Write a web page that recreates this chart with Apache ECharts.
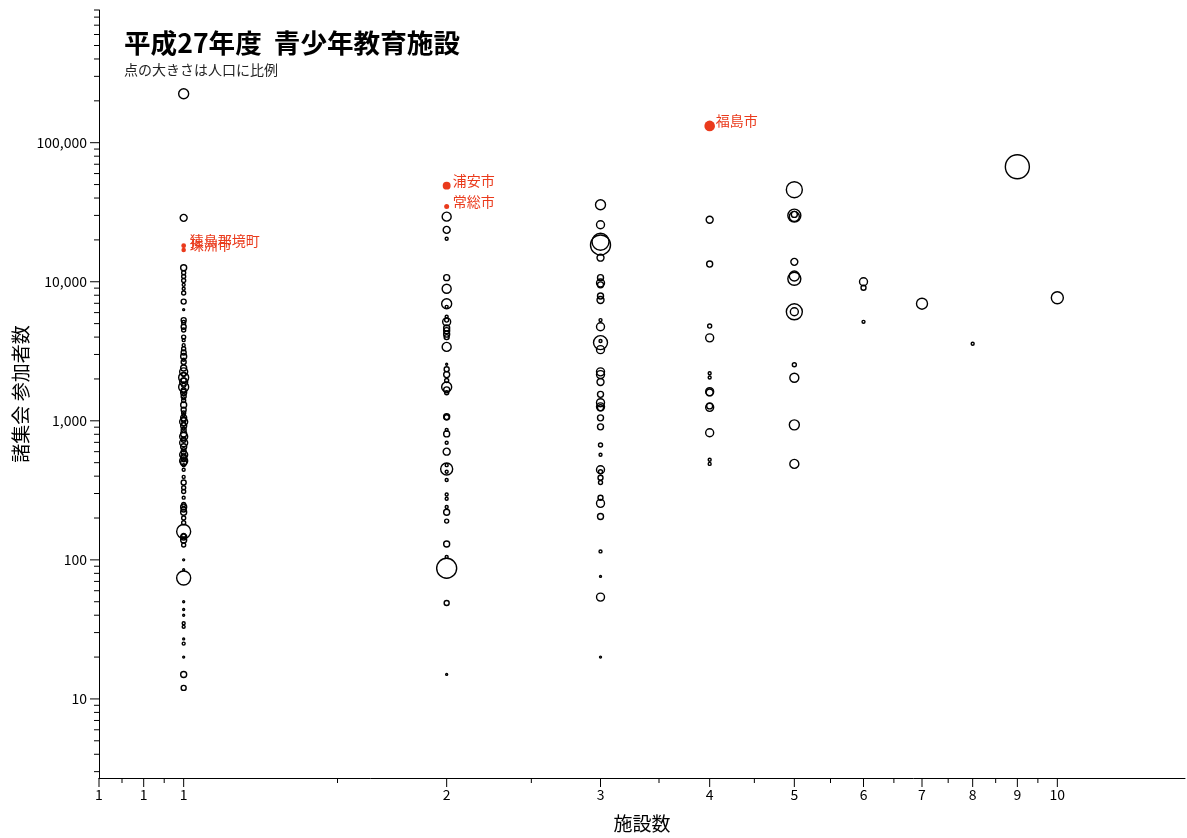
<!DOCTYPE html>
<html>
<head>
<meta charset="utf-8">
<title>平成27年度 青少年教育施設</title>
<script src="https://cdn.jsdelivr.net/npm/echarts@6.0.0/dist/echarts.min.js"></script>
<style>
  html, body { margin: 0; padding: 0; background: #fff; }
  #chart { width: 1187px; height: 838px; }
</style>
</head>
<body>
<div id="chart"></div>
<script>
// 軸の範囲と目盛
const xRange = [0.8, 14]
const yRange = [2.7, 900000]
const xMajorTicks = [0.8, 0.9, 1, 2, 3, 4, 5, 6, 7, 8, 9, 10]
const xMinorTicks = [0.85, 0.95, 1.5, 2.5, 3.5, 4.5, 5.5, 6.5, 7.5, 8.5, 9.5]
const yMajorTicks = [10, 100, 1000, 10000, 100000]
const yMinorTicks = [
  3, 4, 5, 6, 7, 8, 9,
  20, 30, 40, 50, 60, 70, 80, 90,
  200, 300, 400, 500, 600, 700, 800, 900,
  2000, 3000, 4000, 5000, 6000, 7000, 8000, 9000,
  20000, 30000, 40000, 50000, 60000, 70000, 80000, 90000,
  200000, 300000, 400000, 500000, 600000, 700000, 800000, 900000
]

// 施設数ごとの [諸集会参加者数, 人口(千人)]
const facilityCounts = [1, 2, 3, 4, 5, 6, 7, 8, 9, 10]
const fac1 = [
  [225000, 260], [28800, 127], [12600, 94], [11600, 42], [10900, 42], [10200, 42],
  [9500, 23], [8900, 23], [8300, 42], [7200, 65], [6300, 10], [5300, 65], [5100, 42],
  [4750, 65], [4500, 42], [4000, 42], [3800, 23], [3500, 23], [3100, 65], [2900, 94],
  [2650, 65], [2400, 94], [2250, 166], [2050, 260], [1900, 166], [1750, 260], [1600, 94],
  [1500, 65], [1400, 42], [1300, 94], [1200, 65], [1140, 42], [1050, 94], [985, 166],
  [920, 94], [860, 65], [805, 94], [770, 166], [695, 166], [650, 94], [570, 166],
  [540, 94], [515, 166], [500, 94], [445, 23], [395, 23], [360, 65], [330, 42], [310, 42],
  [280, 23], [240, 94], [230, 65], [220, 94], [200, 42], [185, 42], [160, 510], [146, 94],
  [139, 94], [128, 42], [100, 10], [85, 10], [74, 510], [50, 10], [44, 10], [40, 10],
  [35, 23], [33, 23], [27, 10], [25, 23], [20, 10], [15, 94], [12, 65],
  [3300, 42], [2750, 23], [2150, 42], [1950, 65], [1800, 42], [1650, 65], [1450, 23],
  [1100, 23], [1020, 65], [950, 42], [880, 23], [730, 65], [620, 42], [600, 65],
  [555, 65], [525, 42], [480, 23], [250, 42], [150, 42]
]
const fac2 = [
  [29400, 211], [23600, 127], [20400, 23], [10700, 94], [8900, 211], [6950, 260],
  [6600, 23], [5600, 23], [5300, 42], [5150, 166], [4650, 94], [4450, 94], [4200, 94],
  [4000, 65], [3400, 211], [2550, 10], [2350, 65], [2150, 94], [1950, 42], [1750, 260],
  [1670, 94], [1590, 42], [1070, 94], [1060, 65], [860, 23], [805, 94], [695, 23],
  [600, 127], [480, 23], [450, 375], [430, 23], [375, 23], [295, 23], [275, 23],
  [240, 23], [220, 94], [190, 42], [130, 94], [105, 23], [87, 1040], [49, 65], [15, 10]
]
const fac3 = [
  [35800, 260], [25700, 166], [18400, 1040], [19400, 750], [14900, 127], [10700, 94],
  [9800, 166], [9500, 94], [7900, 94], [7400, 127], [5300, 23], [4750, 166], [3650, 510],
  [3750, 23], [3250, 166], [2250, 166], [2150, 166], [1900, 127], [1550, 94], [1350, 166],
  [1260, 166], [1240, 94], [1050, 94], [905, 94], [670, 42], [570, 23], [445, 166],
  [430, 42], [390, 65], [360, 42], [280, 65], [255, 166], [205, 94], [115, 23], [76, 10],
  [54, 166], [20, 10]
]
const fac4 = [
  [27900, 127], [13400, 94], [4800, 42], [3950, 166], [2200, 23], [2050, 23],
  [1620, 166], [1600, 127], [1280, 94], [1250, 166], [820, 166], [525, 23], [490, 23]
]
const fac5 = [
  [45900, 666], [29900, 440], [29500, 260], [30500, 94], [13900, 127], [11000, 260],
  [10500, 440], [6080, 666], [6080, 166], [2530, 42], [2040, 211], [935, 260], [490, 211]
]
const fac6 = [[10000, 166], [9050, 65], [5150, 23]]
const fac7 = [[6950, 315]]
const fac8 = [[3580, 23]]
const fac9 = [[67100, 1500]]
const fac10 = [[7670, 375]]

// 強調する自治体
const cityNames = ['福島市', '浦安市', '常総市', '猿島郡境町', '珠洲市']
const cityFacilities = [4, 2, 2, 1, 1]
const cityParticipants = [132000, 49100, 34700, 18150, 16900]
const cityPopulation = [294, 164, 65, 60, 55]

const FONT = '"Noto Sans CJK JP", "Noto Sans", sans-serif'
const RED = '#ea3a1c'
const sizeOf = pop => 0.62 * Math.sqrt(pop)

const columns = [fac1, fac2, fac3, fac4, fac5, fac6, fac7, fac8, fac9, fac10]
const circleData = []
columns.forEach((col, i) => {
  col.forEach(([v, pop]) => circleData.push([facilityCounts[i], v, pop]))
})

const cityData = cityNames.map((name, i) => ({
  name: name,
  value: [cityFacilities[i], cityParticipants[i], cityPopulation[i]]
}))

// 目盛り線（軸のスケールに乗せて描く）
const tickSeries = (values, onX, len, withLabel) => ({
  type: 'scatter',
  silent: true,
  clip: false,
  z: 1,
  symbol: 'rect',
  symbolSize: onX ? [1, len] : [len, 1],
  symbolOffset: onX ? [0, len / 2] : [-len / 2, 0],
  itemStyle: { color: '#000', opacity: 1 },
  label: {
    show: withLabel,
    position: onX ? 'bottom' : 'left',
    distance: onX ? 1 : 3,
    fontFamily: FONT,
    fontSize: 14,
    color: '#000',
    formatter: p => onX
      ? String(Math.round(p.value[0]))
      : p.value[1].toLocaleString('en-US')
  },
  data: values.map(v => onX ? [v, yRange[0]] : [xRange[0], v])
})

const chart = echarts.init(document.getElementById('chart'))
chart.setOption({
  animation: false,
  textStyle: { fontFamily: FONT },
  title: [
    {
      text: '平成27年度  青少年教育施設',
      left: 119,
      top: 25,
      textStyle: { fontFamily: FONT, fontSize: 26.6, fontWeight: 'bold', color: '#000' }
    },
    {
      text: '点の大きさは人口に比例',
      left: 119,
      top: 58,
      textStyle: { fontFamily: FONT, fontSize: 14, fontWeight: 'normal', color: '#222' }
    }
  ],
  grid: { left: 99, right: 2, top: 10, bottom: 60, outerBoundsMode: 'none', containLabel: false },
  xAxis: {
    type: 'log',
    logBase: 10,
    min: xRange[0],
    max: xRange[1],
    name: '施設数',
    nameLocation: 'middle',
    nameGap: 36,
    nameTextStyle: { fontFamily: FONT, fontSize: 19, color: '#000' },
    axisLine: { lineStyle: { color: '#000', width: 1 } },
    axisTick: { show: false },
    axisLabel: { show: false },
    splitLine: { show: false }
  },
  yAxis: {
    type: 'log',
    logBase: 10,
    min: yRange[0],
    max: yRange[1],
    name: '諸集会 参加者数',
    nameLocation: 'middle',
    nameGap: 69,
    nameRotate: 90,
    nameTextStyle: { fontFamily: FONT, fontSize: 19, color: '#000' },
    axisLine: { show: true, lineStyle: { color: '#000', width: 1 } },
    axisTick: { show: false },
    axisLabel: { show: false },
    splitLine: { show: false }
  },
  series: [
    tickSeries(xMajorTicks, true, 9, true),
    tickSeries(xMinorTicks, true, 5, false),
    tickSeries(yMajorTicks, false, 9, true),
    tickSeries(yMinorTicks, false, 5, false),
    {
      type: 'scatter',
      z: 2,
      data: circleData,
      symbol: 'circle',
      symbolSize: d => sizeOf(d[2]),
      itemStyle: { color: 'rgba(0,0,0,0)', borderColor: '#000', borderWidth: 1.4, opacity: 1 }
    },
    {
      type: 'scatter',
      z: 3,
      data: cityData,
      symbol: 'circle',
      symbolSize: d => sizeOf(d[2]),
      itemStyle: { color: RED, opacity: 1 },
      label: {
        show: true,
        position: 'inside',
        align: 'left',
        verticalAlign: 'middle',
        offset: [6, -5],
        formatter: p => p.name,
        fontFamily: FONT,
        fontSize: 14,
        color: RED
      }
    }
  ]
})
</script>
</body>
</html>
